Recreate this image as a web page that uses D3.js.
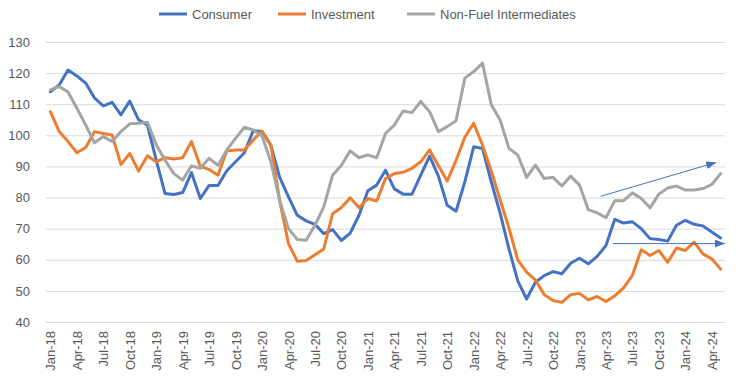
<!DOCTYPE html>
<html>
<head>
<meta charset="utf-8">
<script src="https://cdn.jsdelivr.net/npm/d3@7"></script>
<style>
  body { margin: 0; background: #fff; }
  svg { display: block; font-family: "Liberation Sans", Arial, sans-serif; }
</style>
</head>
<body>
<svg></svg>
<script>
const width = 736;
const height = 376;

/* -------------------------
   DATA
--------------------------*/
const months = [
  "Jan-18","Feb-18","Mar-18","Apr-18","May-18","Jun-18","Jul-18","Aug-18","Sep-18","Oct-18","Nov-18","Dec-18",
  "Jan-19","Feb-19","Mar-19","Apr-19","May-19","Jun-19","Jul-19","Aug-19","Sep-19","Oct-19","Nov-19","Dec-19",
  "Jan-20","Feb-20","Mar-20","Apr-20","May-20","Jun-20","Jul-20","Aug-20","Sep-20","Oct-20","Nov-20","Dec-20",
  "Jan-21","Feb-21","Mar-21","Apr-21","May-21","Jun-21","Jul-21","Aug-21","Sep-21","Oct-21","Nov-21","Dec-21",
  "Jan-22","Feb-22","Mar-22","Apr-22","May-22","Jun-22","Jul-22","Aug-22","Sep-22","Oct-22","Nov-22","Dec-22",
  "Jan-23","Feb-23","Mar-23","Apr-23","May-23","Jun-23","Jul-23","Aug-23","Sep-23","Oct-23","Nov-23","Dec-23",
  "Jan-24","Feb-24","Mar-24","Apr-24","May-24"
];

const consumer = [
  114, 116.2, 121, 119.1, 116.8, 112, 109.5, 110.6, 106.6, 111, 105, 103.3,
  92, 81.3, 81, 81.6, 88, 79.7, 83.9, 83.9, 88.6, 91.5, 94.4, 101.5,
  101.2, 96.8, 86.5, 80.2, 74.3, 72.5, 71.4, 68.4, 69.7, 66.2, 68.6, 74.3,
  82.2, 84, 88.8, 82.8, 81.1, 81.1, 87.2, 93.3, 86.9, 77.5, 75.6, 85.1,
  96.3, 95.8, 85, 75, 63.5, 53.2, 47.4, 52.8, 54.9, 56.2, 55.5, 58.9,
  60.5, 58.7, 61.1, 64.6, 73, 71.8, 72.2, 70, 66.8, 66.5, 66, 71.1,
  72.7, 71.4, 70.9, 68.9, 67
];

const investment = [
  107.6, 101.2, 98, 94.4, 96.1, 101.2, 100.6, 100.1, 90.6, 94.2, 88.5, 93.4,
  91.5, 92.8, 92.4, 92.8, 98, 90.1, 89, 87.2, 95, 95.3, 95.3, 98.5,
  101.4, 96.9, 79, 65.2, 59.5, 59.8, 61.6, 63.5, 74.8, 76.8, 79.9, 76.7,
  79.7, 78.9, 86.1, 87.7, 88.1, 89.4, 91.5, 95.3, 90.2, 85.3, 92, 99.4,
  103.9, 96.9, 88.5, 79.3, 70.2, 60, 56, 53.5, 48.8, 46.9, 46.3, 48.8,
  49.2, 47.1, 48.2, 46.6, 48.4, 51, 55, 63.2, 61.4, 63, 59.2, 63.8,
  63, 65.7, 61.9, 60.3, 57
];

const nonFuel = [
  114.6, 115.7, 113.9, 108.7, 103.3, 97.6, 99.6, 98, 101.2, 103.7, 103.9, 104.2,
  97, 92, 87.7, 85.6, 90.2, 89.4, 92.6, 90.4, 95.3, 99, 102.6, 101.7,
  99.8, 91.5, 79.1, 70, 66.5, 66.3, 71.1, 77, 87.2, 90.4, 95, 92.8,
  93.7, 92.8, 100.6, 103.3, 107.8, 107.3, 110.9, 107.6, 101.2, 102.8, 104.7, 118.4,
  120.5, 123.2, 109.8, 104.9, 95.8, 93.7, 86.5, 90.4, 86.1, 86.5, 83.7, 86.9,
  84, 76.1, 75.1, 73.5, 79, 79, 81.5, 79.7, 76.7, 81.1, 83.1, 83.7,
  82.4, 82.4, 82.9, 84.2, 87.7
];

const yTicks = [40, 50, 60, 70, 80, 90, 100, 110, 120, 130];

// trend arrows, in (month index, index value)
const arrows = [
  { from: [62.4, 80.4], to: [75.5, 91.3] },
  { from: [63.8, 65.2], to: [76.5, 65.2] }
];

const series = [
  { name: "Consumer", values: consumer, color: "#4472C4" },
  { name: "Investment", values: investment, color: "#ED7D31" },
  { name: "Non-Fuel Intermediates", values: nonFuel, color: "#A5A5A5" }
];

/* -------------------------
   SCALES
--------------------------*/
const plotLeft = 46, plotRight = 725, plotTop = 42, plotBottom = 322;

const x = d3.scaleLinear()
  .domain([-0.5, months.length - 0.5])
  .range([plotLeft, plotRight]);

const y = d3.scaleLinear()
  .domain([40, 130])
  .range([plotBottom, plotTop]);

const svg = d3.select("svg")
  .attr("width", width)
  .attr("height", height);

/* -------------------------
   Y AXIS + GRID
--------------------------*/
const yAxis = svg.append("g")
  .attr("transform", `translate(${plotLeft},0)`)
  .call(d3.axisLeft(y).tickValues(yTicks).tickSize(-(plotRight - plotLeft)).tickPadding(16));

yAxis.select(".domain").remove();
yAxis.selectAll("line").attr("stroke", "#d9d9d9").attr("stroke-width", 1);
yAxis.selectAll("text")
  .attr("fill", "#595959")
  .style("font-size", "13px");

/* -------------------------
   X AXIS (rotated labels)
--------------------------*/
const xAxis = svg.append("g")
  .attr("transform", `translate(0,${plotBottom})`)
  .call(d3.axisBottom(x)
    .tickValues(months.map((m, i) => i).filter(i => i % 3 === 0))
    .tickFormat(i => months[i])
    .tickSize(0));

xAxis.select(".domain").remove();
xAxis.selectAll("text")
  .attr("fill", "#595959")
  .style("font-size", "13px")
  .attr("text-anchor", "end")
  .attr("transform", "rotate(-90)")
  .attr("x", -9)
  .attr("y", 0)
  .attr("dy", "0.35em");

/* -------------------------
   LINES
--------------------------*/
const line = d3.line()
  .x((d, i) => x(i))
  .y(d => y(d));

svg.append("g")
  .selectAll("path")
  .data(series)
  .enter()
  .append("path")
  .attr("d", d => line(d.values))
  .attr("fill", "none")
  .attr("stroke", d => d.color)
  .attr("stroke-width", 3)
  .attr("stroke-linejoin", "round")
  .attr("stroke-linecap", "round");

/* -------------------------
   ARROWS
--------------------------*/
svg.append("defs").append("marker")
  .attr("id", "head")
  .attr("markerUnits", "userSpaceOnUse")
  .attr("viewBox", "0 0 10 8")
  .attr("refX", 10)
  .attr("refY", 4)
  .attr("markerWidth", 10)
  .attr("markerHeight", 8)
  .attr("orient", "auto")
  .append("path")
  .attr("d", "M0,0 L10,4 L0,8 Z")
  .attr("fill", "#4472C4");

svg.append("g")
  .selectAll("line")
  .data(arrows)
  .enter()
  .append("line")
  .attr("x1", d => x(d.from[0]))
  .attr("y1", d => y(d.from[1]))
  .attr("x2", d => x(d.to[0]))
  .attr("y2", d => y(d.to[1]))
  .attr("stroke", "#4472C4")
  .attr("stroke-width", 1)
  .attr("marker-end", "url(#head)");

/* -------------------------
   LEGEND
--------------------------*/
const legendX = [159, 278, 407];

const legend = svg.append("g")
  .selectAll("g")
  .data(series)
  .enter()
  .append("g")
  .attr("transform", (d, i) => `translate(${legendX[i]},14)`);

legend.append("line")
  .attr("x1", 0)
  .attr("x2", 28)
  .attr("stroke", d => d.color)
  .attr("stroke-width", 3);

legend.append("text")
  .attr("x", 33)
  .attr("dy", "0.35em")
  .attr("fill", "#595959")
  .style("font-size", "13px")
  .text(d => d.name);
</script>
</body>
</html>
